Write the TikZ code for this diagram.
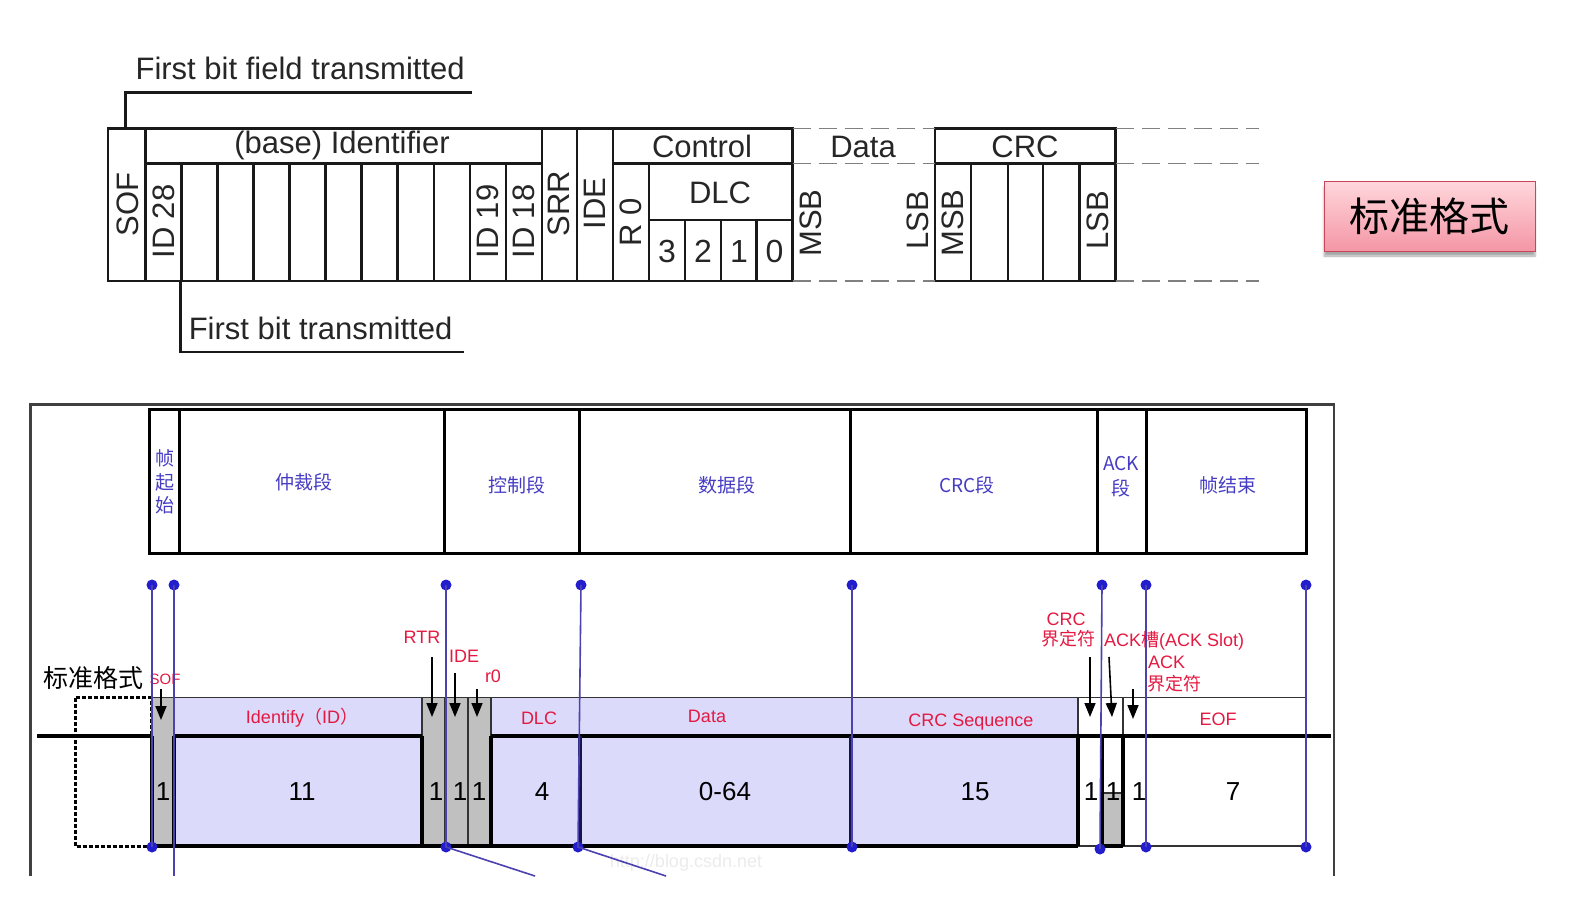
\documentclass[tikz,border=0pt]{standalone}
\usepackage{fontspec}
\setmainfont{Liberation Sans}
\newfontfamily\cjk{Noto Sans CJK SC}
\usetikzlibrary{arrows.meta,shadows.blur}
\definecolor{lav}{RGB}{220,218,250}
\definecolor{gcell}{RGB}{192,192,192}
\definecolor{lblblue}{RGB}{70,60,195}
\definecolor{lblred}{RGB}{228,25,65}
\definecolor{dotblue}{RGB}{35,30,205}
\definecolor{vline}{RGB}{75,65,175}
\definecolor{navy}{RGB}{20,20,80}
\definecolor{pinktop}{RGB}{255,214,220}
\definecolor{pinkbot}{RGB}{244,150,165}
\definecolor{pinkedge}{RGB}{200,70,90}
\newcommand{\fsz}[1]{\fontsize{#1}{#1}\selectfont}
\begin{document}
\begin{tikzpicture}[x=1pt,y=-1pt,
  tl/.style={draw=black!90,line width=2.3pt},
  dl/.style={draw=black!50,line width=1.8pt,dash pattern=on 18pt off 8pt},
  ft/.style={inner sep=0pt,font=\fsz{31},text=black!85},
  rt/.style={ft,rotate=90,anchor=west},
  hb/.style={inner sep=0pt,font=\cjk\fsz{19},text=lblblue},
  rl/.style={inner sep=0pt,font=\fsz{18},text=lblred},
  rc/.style={inner sep=0pt,font=\cjk\fsz{18},text=lblred},
  num/.style={inner sep=0pt,font=\fsz{26}},
  thk/.style={line width=4pt,black},
  thn/.style={line width=1.2pt,black!80},
  arr/.style={line width=1.6pt,-{Triangle[width=11pt,length=14pt]}},
  bl/.style={draw=vline,line width=1.6pt},
  bdot/.style={circle,fill=dotblue,inner sep=0pt,minimum size=11pt},
]
\useasboundingbox (0,0) rectangle (1573,920);

% ================= top frame diagram =================
\draw[tl] (108,128.5) rectangle (792.5,281);
\draw[tl] (935,128.5) rectangle (1115.5,281);
\draw[tl] (145.5,128.5) -- (145.5,281);
\draw[tl] (145.5,163.5) -- (541.7,163.5);
\draw[tl] (613,163.5) -- (792.5,163.5);
\draw[tl] (935,163.5) -- (1115.5,163.5);
\foreach \x in {541.7,576.8,613} \draw[tl] (\x,128.5) -- (\x,281);
\foreach \i in {1,...,10} \draw[tl] ({145.5+36.02*\i},163.5) -- ({145.5+36.02*\i},281);
\draw[tl] (649,163.5) -- (649,281);
\draw[tl] (649,219.7) -- (792.5,219.7);
\foreach \x in {685,721,756.5} \draw[tl] (\x,219.7) -- (\x,281);
\foreach \x in {971,1008,1043.3,1079.4} \draw[tl] (\x,163.5) -- (\x,281);
\foreach \y in {128.5,163.5,281} {
  \draw[dl] (792.5,\y) -- (935,\y);
  \draw[dl] (1115.5,\y) -- (1259,\y);
}

% leader lines
\node[ft,anchor=west] (fbf) at (135.4,68.5) {First bit field transmitted};
\node[ft,anchor=west] (fb) at (188.6,328) {First bit transmitted};
\coordinate (fbfA) at (125.4,128.5);
\coordinate (fbA) at (180.6,281);
\draw[tl] (fbfA) -- (125.4,92.5) -- (471.5,92.5);
\draw[tl] (fbA) -- (180.6,352) -- (463.5,352);

% header texts
\node[ft] (bid) at (342,145.5) {(base) Identifier};
\node[ft] (ctl) at (702,146.5) {Control};
\node[ft] (dat) at (863,146.5) {Data};
\node[ft] (crc) at (1025,146.5) {CRC};
\node[ft] (dlc) at (720,192.5) {DLC};
\node[ft,font=\fsz{32}] (d3) at (667,251) {3};
\node[ft,font=\fsz{32}] (d2) at (703,251) {2};
\node[ft,font=\fsz{32}] (d1) at (739,251) {1};
\node[ft,font=\fsz{32}] (d0) at (774.5,251) {0};

% rotated texts
\node[rt] (sof) at (127.4,236.8) {SOF};
\node[rt] (id28) at (163.5,258.8) {ID 28};
\node[rt] (id19) at (487.6,258.8) {ID 19};
\node[rt] (id18) at (523.7,258.8) {ID 18};
\node[rt] (srr) at (559.2,236.8) {SRR};
\node[rt] (ide) at (595,229.7) {IDE};
\node[rt] (r0) at (631,246.8) {R 0};
\node[rt] (msb1) at (810.5,256.8) {MSB};
\node[rt] (lsb1) at (918,249.8) {LSB};
\node[rt] (msb2) at (953,256.8) {MSB};
\node[rt] (lsb2) at (1097.5,249.8) {LSB};

% pink label
\node[draw=pinkedge,line width=1pt,top color=pinktop,bottom color=pinkbot,
  minimum width=211pt,minimum height=69pt,inner sep=0pt,
  blur shadow={shadow xshift=0pt,shadow yshift=-5pt,shadow blur steps=6,shadow opacity=35},
  font=\cjk\fsz{40}] (std) at (1429.5,216.5) {标准格式};

% ================= bottom diagram =================
\draw[line width=2.5pt,black!75] (30.5,876) -- (30.5,404.5) -- (1334,404.5) -- (1334,876);

% header table
\draw[line width=3pt] (149.5,409.5) rectangle (1306.2,553.8);
\foreach \x in {179.6,444.4,579.8,850.7,1097.5,1146.7}
  \draw[line width=3pt] (\x,409.5) -- (\x,553.8);
\node[hb,align=center,font=\cjk\fontsize{19}{23.5}\selectfont] (hsof) at (164.6,482) {帧\\起\\始};
\node[hb] (harb) at (304,482) {仲裁段};
\node[hb] (hctl) at (517,485) {控制段};
\node[hb] (hdat) at (727,485) {数据段};
\node[hb] (hcrc) at (967,485) {CRC段};
\node[hb,align=center,font=\cjk\fontsize{19}{25}\selectfont] (hack) at (1121,477) {ACK\\段};
\node[hb] (heof) at (1228,485) {帧结束};

% fills
\fill[lav] (174,697.5) rectangle (422,846);
\fill[lav] (491,697.5) rectangle (1078,846);
\fill[gcell] (152,697.5) rectangle (174,846);
\fill[gcell] (422,697.5) rectangle (491,846);
\fill[gcell] (1102,793) rectangle (1123,846);
\draw[thn] (1102,793) -- (1123,793);

% dashed idle box
\draw[line width=3pt,black,dash pattern=on 4pt off 2pt] (75,697.5) rectangle (151,846);

% band lines
\draw[thn] (151,697.5) -- (1306,697.5);
\draw[thn] (1078,846) -- (1306,846);
\foreach \x in {445,468} \draw[thn] (\x,697.5) -- (\x,846);
\foreach \x in {422,491,1078,1123} \draw[thn] (\x,697.5) -- (\x,735.5);

% signal
\draw[thk] (37,735.5) -- (152,735.5);
\draw[thk] (174,735.5) -- (422,735.5);
\draw[thk] (491,735.5) -- (1331,735.5);
\draw[thk] (152,846) -- (1078,846);
\draw[thk] (1102,846) -- (1123,846);
\foreach \x in {152,174,422,491,1078,1102,1123} \draw[thk] (\x,735.5) -- (\x,846);
\foreach \x in {580,851} \draw[line width=4pt,navy] (\x,735.5) -- (\x,846);

% band labels
\node[rl] (lid) at (302,718) {Identify{\cjk （}ID{\cjk ）}};
\node[rl] (ldlc) at (539,718) {DLC};
\node[rl] (ldata) at (707,716) {Data};
\node[rl] (lcrc) at (971,722) {CRC Sequence};
\node[rl] (leof) at (1218,719) {EOF};

% bit counts
\node[num] (n1) at (163,792) {1};
\node[num] (n2) at (302,792) {11};
\node[num] (n3) at (436,792) {1};
\node[num] (n4) at (460,792) {1};
\node[num] (n5) at (479,792) {1};
\node[num] (n6) at (542,792) {4};
\node[num] (n7) at (725,792) {0-64};
\node[num] (n8) at (975,792) {15};
\node[num] (n9) at (1091,792) {1};
\node[num] (n10) at (1113,792) {1};
\node[num] (n11) at (1139,792) {1};
\node[num] (n12) at (1233,792) {7};

% annotations
\node[inner sep=0pt,font=\cjk\fsz{25}] (lstd) at (93.5,678) {标准格式};
\node[rl,font=\fsz{15}] (asof) at (165,679) {SOF};
\node[rl] (artr) at (422,637) {RTR};
\node[rl] (aide) at (464,656) {IDE};
\node[rl] (ar0) at (493,676) {r0};
\node[rl] (acrc1) at (1066,619) {CRC};
\node[rc] (acrc2) at (1068,639) {界定符};
\node[rl,anchor=west] (aslot) at (1104,641) {ACK{\cjk 槽}(ACK Slot)};
\node[rl,anchor=west] (adel1) at (1148,662) {ACK};
\node[rc,anchor=west] (adel2) at (1147,684) {界定符};

\coordinate (s1) at (161,689);   \coordinate (e1) at (161,720);
\coordinate (s2) at (432,657);   \coordinate (e2) at (432,717);
\coordinate (s3) at (455,673);   \coordinate (e3) at (455,717);
\coordinate (s4) at (477,689);   \coordinate (e4) at (477,717);
\coordinate (s5) at (1090,657);  \coordinate (e5) at (1090,717);
\coordinate (s6) at (1109,657);  \coordinate (e6) at (1112,717);
\coordinate (s7) at (1133,689);  \coordinate (e7) at (1133,719);
\foreach \i in {1,...,7} \draw[arr] (s\i) -- (e\i);

% watermark
\node[inner sep=0pt,font=\fsz{18},text=black!8] (wm) at (686,863) {http://blog.csdn.net};

% blue marker lines
\node[bdot] (t1) at (152,585) {};  \node[bdot] (b1) at (152,847) {};
\node[bdot] (t2) at (174,585) {};  \coordinate (b2) at (174,876);
\node[bdot] (t3) at (446,585) {};  \node[bdot] (b3) at (446,847) {}; \coordinate (c3) at (535,876);
\node[bdot] (t4) at (581,585) {};  \node[bdot] (b4) at (578,847) {}; \coordinate (c4) at (666,876);
\node[bdot] (t5) at (852,585) {};  \node[bdot] (b5) at (852,847) {};
\node[bdot] (t6) at (1102,585) {}; \node[bdot] (b6) at (1100,849) {};
\node[bdot] (t7) at (1146,585) {}; \node[bdot] (b7) at (1146,847) {};
\node[bdot] (t8) at (1306,585) {}; \node[bdot] (b8) at (1306,847) {};
\draw[bl] (t1.center) -- (b1.center);
\draw[bl] (t2.center) -- (b2);
\draw[bl] (t3.center) -- (b3.center) -- (c3);
\draw[bl] (t4.center) -- (b4.center) -- (c4);
\draw[bl] (t5.center) -- (b5.center);
\draw[bl] (t6.center) -- (b6.center);
\draw[bl] (t7.center) -- (b7.center);
\draw[bl] (t8.center) -- (b8.center);
\end{tikzpicture}
\end{document}
